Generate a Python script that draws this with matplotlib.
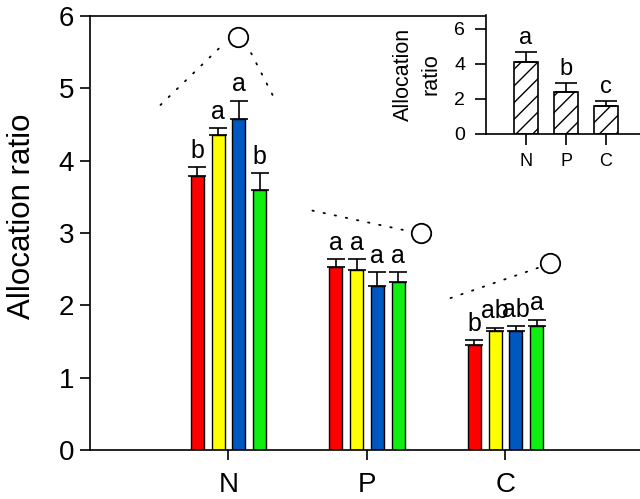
"""
Allocation ratio of N, P, C with an inset of the pooled means
"""
import numpy as np
import matplotlib
matplotlib.use('Agg')
import matplotlib.pyplot as plt

plt.rcParams['font.family'] = ['Liberation Sans', 'DejaVu Sans']

# main panel data
elements = ['N', 'P', 'C']
red_mean = [3.79, 2.535, 1.45]
red_err = [0.12, 0.105, 0.07]
yellow_mean = [4.35, 2.49, 1.65]
yellow_err = [0.10, 0.15, 0.04]
blue_mean = [4.58, 2.27, 1.65]
blue_err = [0.25, 0.19, 0.06]
green_mean = [3.60, 2.32, 1.71]
green_err = [0.23, 0.14, 0.09]
red_letters = ['b', 'a', 'b']
yellow_letters = ['a', 'a', 'ab']
blue_letters = ['a', 'a', 'ab']
green_letters = ['b', 'a', 'a']

# dotted guide lines (start x, start y, end x, end y) and circle markers
guide_x0 = [0.509, 1.318, 1.606, 2.603]
guide_y0 = [4.77, 4.91, 3.31, 2.10]
guide_x1 = [0.957, 1.144, 2.292, 3.238]
guide_y1 = [5.60, 5.56, 3.03, 2.52]
circle_x = [1.072, 2.393, 3.325]
circle_y = [5.71, 3.00, 2.59]

# inset data
inset_mean = [4.10, 2.42, 1.60]
inset_err = [0.57, 0.51, 0.30]
inset_letters = ['a', 'b', 'c']

COLORS = ['#FF0000', '#FFFF00', '#0057C0', '#11EE11']


def style_axis(ax, tick_len, tick_size):
    ax.tick_params(direction='out', length=tick_len, width=1.2, labelsize=tick_size, pad=4)
    for s in ['left', 'bottom', 'top']:
        ax.spines[s].set_linewidth(1.2)
    ax.spines['right'].set_visible(False)


def main():
    fig = plt.figure(figsize=(6.4, 4.99), dpi=100)
    ax = fig.add_axes([0.1406, 0.0982, 0.8656, 0.8697])

    x = np.arange(1, len(elements) + 1)
    width = 0.094
    step = 0.15
    series = [(red_mean, red_err, red_letters),
              (yellow_mean, yellow_err, yellow_letters),
              (blue_mean, blue_err, blue_letters),
              (green_mean, green_err, green_letters)]
    for i, (m, e, lab) in enumerate(series):
        xs = x + (i - 1.5) * step
        ax.bar(xs, m, width=width, color=COLORS[i], edgecolor='black', linewidth=1.0, zorder=2)
        ax.errorbar(xs, m, yerr=[np.zeros(len(m)), e], fmt='none', ecolor='black',
                    elinewidth=1.2, capsize=6.8, capthick=1.2, zorder=3)
        for xi, mi, ei, li in zip(xs, m, e, lab):
            ax.text(xi, mi + ei + 0.13, li, ha='center', va='baseline', fontsize=18)

    # dotted guides and circles
    for x0, y0, x1, y1 in zip(guide_x0, guide_y0, guide_x1, guide_y1):
        ax.plot([x0, x1], [y0, y1], color='black', lw=1.3, linestyle=(0, (0.8, 5.5)),
                dash_capstyle='round', zorder=1)
    ax.plot(circle_x, circle_y, linestyle='none', marker='o', markersize=14,
            markerfacecolor='white', markeredgecolor='black', markeredgewidth=1.3, zorder=4)

    ax.set_xlim(0, 4)
    ax.set_ylim(0, 6)
    ax.set_xticks(x)
    ax.set_xticklabels(elements)
    ax.set_yticks(range(0, 7))
    ax.set_ylabel('Allocation ratio', fontsize=22.5)
    ax.yaxis.set_label_coords(-0.095, 0.539)
    style_axis(ax, 7.5, 20)
    ax.tick_params(axis='x', pad=8)

    # inset
    axin = fig.add_axes([0.7594, 0.7315, 0.25, 0.2385])
    axin.bar(x, inset_mean, width=0.6, color='white', edgecolor='black', linewidth=1.2,
             hatch='//', zorder=2)
    axin.errorbar(x, inset_mean, yerr=[np.zeros(3), inset_err], fmt='none', ecolor='black',
                  elinewidth=1.2, capsize=7.9, capthick=1.2, zorder=3)
    for xi, mi, ei, li in zip(x, inset_mean, inset_err, inset_letters):
        axin.text(xi, mi + ei + 0.45, li, ha='center', va='baseline', fontsize=17)
    axin.set_xlim(0, 4)
    axin.set_ylim(0, 6.8)
    axin.set_yticks([0, 2, 4, 6])
    axin.set_xticks(x)
    axin.set_xticklabels(elements, fontsize=13)
    axin.set_ylabel('Allocation\nratio', fontsize=15.5, linespacing=1.45, labelpad=9)
    style_axis(axin, 8, 14)
    axin.tick_params(axis='y', pad=7)
    axin.tick_params(axis='x', labelsize=13, pad=6)
    axin.spines['top'].set_visible(False)

    fig.savefig('out.png', dpi=100)
    plt.close(fig)


if __name__ == '__main__':
    main()
